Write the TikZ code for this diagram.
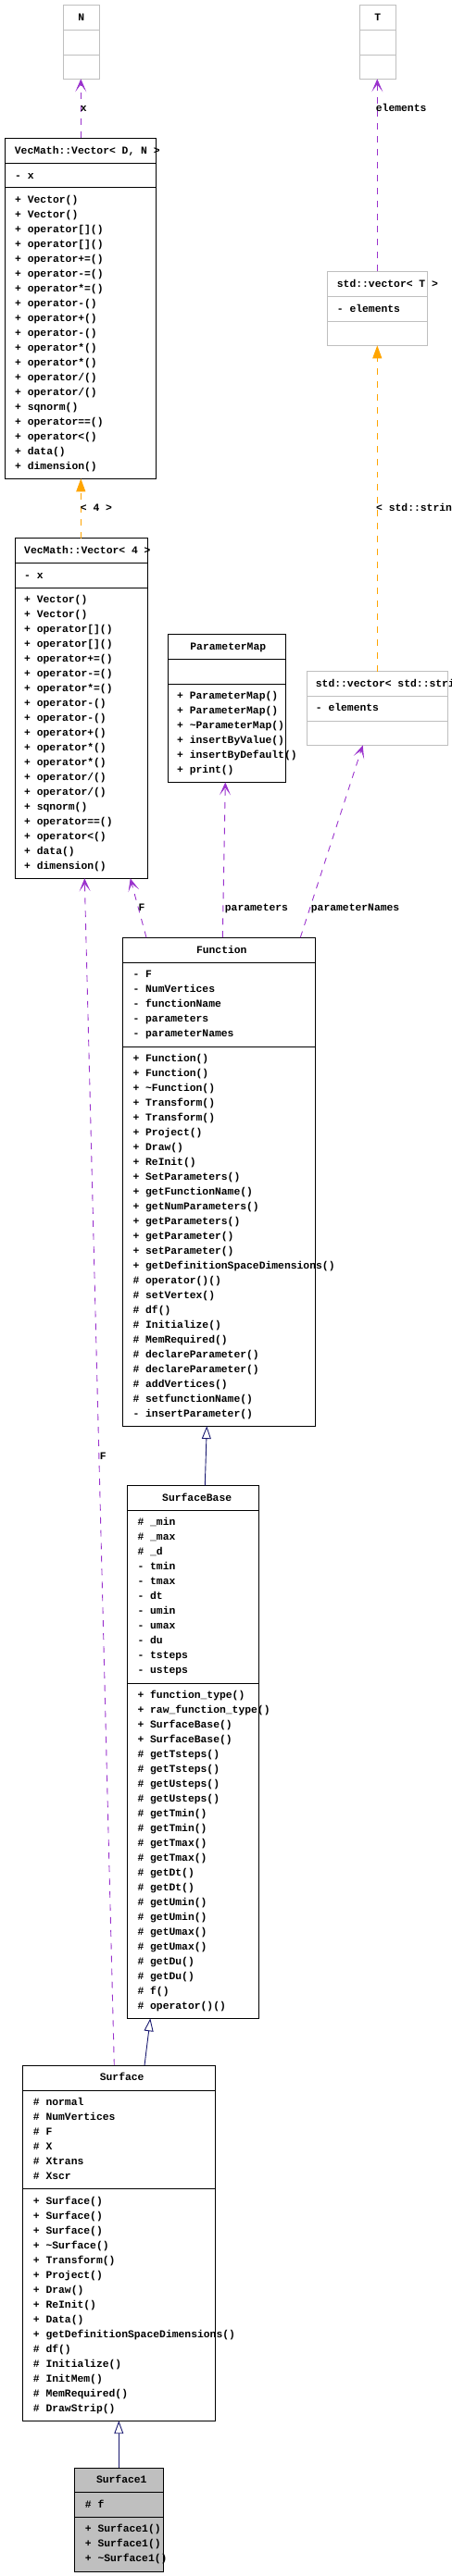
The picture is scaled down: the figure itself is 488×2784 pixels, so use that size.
\documentclass[tikz,border=0pt]{standalone}
\usepackage{fontspec}
\newfontfamily\clsmono{Liberation Mono}
\usetikzlibrary{arrows.meta,fit}
\definecolor{useviolet}{HTML}{9A32CD}
\definecolor{tplorange}{HTML}{FFA500}
\definecolor{inhnavy}{HTML}{191970}
\definecolor{boxgray}{HTML}{BFBFBF}
\newcommand\clsfont{\clsmono\bfseries\fontsize{11.4}{12}\selectfont}
\tikzset{
  box/.style={draw=black, line width=0.9pt, inner sep=0pt, outer sep=0pt},
  gbox/.style={box, draw=boxgray},
  divline/.style={draw=black, line width=0.9pt},
  gdivline/.style={draw=boxgray, line width=0.9pt},
  txt/.style={anchor=west, inner sep=0pt, text height=9.5pt, text depth=2pt, font=\clsfont},
  ttl/.style={txt, anchor=center},
  usearrow/.style={draw=useviolet, line width=0.9pt, dash pattern=on 7pt off 7pt,
    -{Stealth[length=14pt,width=12pt,inset=8pt,fill=useviolet]}},
  tplarrow/.style={draw=tplorange, line width=0.9pt, dash pattern=on 7pt off 7pt,
    -{Triangle[length=14pt,width=10pt,fill=tplorange]}},
  inharrow/.style={draw=inhnavy, line width=0.9pt,
    -{Triangle[open,length=14pt,width=10pt,fill=white]}},
}
\newcommand\rows[4]{%
  \foreach \t [count=\i from 0] in {#4} {\node[txt] (#1\i) at (#2,{#3+16*\i}) {\t};}}
\begin{document}
\begin{tikzpicture}[x=1bp,y=-1bp]
\useasboundingbox (0,0) rectangle (488,2784);
\clip (0,0) rectangle (488,2784);

% ---- N
\node[gbox, fit={(68.3,5.3) (107.3,85.3)}] (nN) {};
\draw[gdivline] (nN.west |- 0,32.3) -- (nN.east |- 0,32.3);
\draw[gdivline] (nN.west |- 0,59.3) -- (nN.east |- 0,59.3);
\node[ttl] (nNt) at (87.8,19) {N};

% ---- T
\node[gbox, fit={(388.3,5.3) (427.3,85.3)}] (nT) {};
\draw[gdivline] (nT.west |- 0,32.3) -- (nT.east |- 0,32.3);
\draw[gdivline] (nT.west |- 0,59.3) -- (nT.east |- 0,59.3);
\node[ttl] (nTt) at (407.8,19) {T};

% ---- VecMath::Vector< D, N >
\node[box, fit={(5.3,149) (168.7,517.3)}] (vecDN) {};
\draw[divline] (vecDN.west |- 0,176.7) -- (vecDN.east |- 0,176.7);
\draw[divline] (vecDN.west |- 0,202.7) -- (vecDN.east |- 0,202.7);
\node[txt] (vecDNt) at (15.7,163) {VecMath::Vector< D, N >};
\node[txt] (vecDNa) at (16,190) {- x};
\rows{vecDNm}{16}{216}{{+ Vector()},{+ Vector()},{+ operator[]()},{+ operator[]()},{+ operator+=()},{+ operator-=()},{+ operator*=()},{+ operator-()},{+ operator+()},{+ operator-()},{+ operator*()},{+ operator*()},{+ operator/()},{+ operator/()},{+ sqnorm()},{+ operator==()},{+ operator<()},{+ data()},{+ dimension()}}

% ---- std::vector< T >
\node[gbox, fit={(353.3,293.3) (461.3,373.3)}] (vecT) {};
\draw[gdivline] (vecT.west |- 0,320.7) -- (vecT.east |- 0,320.7);
\draw[gdivline] (vecT.west |- 0,347.3) -- (vecT.east |- 0,347.3);
\node[txt] (vecTt) at (363.7,306.7) {std::vector< T >};
\node[txt] (vecTa) at (363.7,333.3) {- elements};

% ---- VecMath::Vector< 4 >
\node[box, fit={(16.3,581.7) (159.7,949.3)}] (vec4) {};
\draw[divline] (vec4.west |- 0,608.3) -- (vec4.east |- 0,608.3);
\draw[divline] (vec4.west |- 0,635.3) -- (vec4.east |- 0,635.3);
\node[txt] (vec4t) at (26,595) {VecMath::Vector< 4 >};
\node[txt] (vec4a) at (26,621.7) {- x};
\rows{vec4m}{26}{647.7}{{+ Vector()},{+ Vector()},{+ operator[]()},{+ operator[]()},{+ operator+=()},{+ operator-=()},{+ operator*=()},{+ operator-()},{+ operator-()},{+ operator+()},{+ operator*()},{+ operator*()},{+ operator/()},{+ operator/()},{+ sqnorm()},{+ operator==()},{+ operator<()},{+ data()},{+ dimension()}}

% ---- ParameterMap
\node[box, fit={(181.3,685.4) (308.3,845.4)}] (pmap) {};
\draw[divline] (pmap.west |- 0,712.5) -- (pmap.east |- 0,712.5);
\draw[divline] (pmap.west |- 0,739.3) -- (pmap.east |- 0,739.3);
\node[ttl] (pmapt) at (246.3,698.9) {ParameterMap};
\rows{pmapm}{191}{751.8}{{+ ParameterMap()},{+ ParameterMap()},{+ \textasciitilde ParameterMap()},{+ insertByValue()},{+ insertByDefault()},{+ print()}}

% ---- std::vector< std::string >
\node[gbox, fit={(331.3,725.7) (483.3,805.4)}] (vecS) {};
\draw[gdivline] (vecS.west |- 0,752.5) -- (vecS.east |- 0,752.5);
\draw[gdivline] (vecS.west |- 0,779.3) -- (vecS.east |- 0,779.3);
\node[txt] (vecSt) at (340.7,738.9) {std::vector< std::string >};
\node[txt] (vecSa) at (340.7,765) {- elements};

% ---- Function
\node[box, fit={(132.3,1013.2) (340.3,1541.1)}] (func) {};
\draw[divline] (func.west |- 0,1040.4) -- (func.east |- 0,1040.4);
\draw[divline] (func.west |- 0,1131.4) -- (func.east |- 0,1131.4);
\node[ttl] (funct) at (239.3,1026.8) {Function};
\rows{funca}{143.3}{1052.9}{{- F},{- NumVertices},{- functionName},{- parameters},{- parameterNames}}
\rows{funcm}{143.3}{1143.6}{{+ Function()},{+ Function()},{+ \textasciitilde Function()},{+ Transform()},{+ Transform()},{+ Project()},{+ Draw()},{+ ReInit()},{+ SetParameters()},{+ getFunctionName()},{+ getNumParameters()},{+ getParameters()},{+ getParameter()},{+ setParameter()},{+ getDefinitionSpaceDimensions()},{\# operator()()},{\# setVertex()},{\# df()},{\# Initialize()},{\# MemRequired()},{\# declareParameter()},{\# declareParameter()},{\# addVertices()},{\# setfunctionName()},{- insertParameter()}}

% ---- SurfaceBase
\node[box, fit={(137.3,1605.4) (279.3,2181.3)}] (sbase) {};
\draw[divline] (sbase.west |- 0,1632.5) -- (sbase.east |- 0,1632.5);
\draw[divline] (sbase.west |- 0,1819.3) -- (sbase.east |- 0,1819.3);
\node[ttl] (sbaset) at (212.7,1618.9) {SurfaceBase};
\rows{sbasea}{148.3}{1645}{{\# \_min},{\# \_max},{\# \_d},{- tmin},{- tmax},{- dt},{- umin},{- umax},{- du},{- tsteps},{- usteps}}
\rows{sbasem}{148.3}{1831.8}{{+ function\_type()},{+ raw\_function\_type()},{+ SurfaceBase()},{+ SurfaceBase()},{\# getTsteps()},{\# getTsteps()},{\# getUsteps()},{\# getUsteps()},{\# getTmin()},{\# getTmin()},{\# getTmax()},{\# getTmax()},{\# getDt()},{\# getDt()},{\# getUmin()},{\# getUmin()},{\# getUmax()},{\# getUmax()},{\# getDu()},{\# getDu()},{\# f()},{\# operator()()}}

% ---- Surface
\node[box, fit={(24.3,2232.2) (232.3,2616.2)}] (surf) {};
\draw[divline] (surf.west |- 0,2259.4) -- (surf.east |- 0,2259.4);
\draw[divline] (surf.west |- 0,2365.5) -- (surf.east |- 0,2365.5);
\node[ttl] (surft) at (131.7,2245) {Surface};
\rows{surfa}{35.7}{2271.8}{{\# normal},{\# NumVertices},{\# F},{\# X},{\# Xtrans},{\# Xscr}}
\rows{surfm}{35.7}{2378.6}{{+ Surface()},{+ Surface()},{+ Surface()},{+ \textasciitilde Surface()},{+ Transform()},{+ Project()},{+ Draw()},{+ ReInit()},{+ Data()},{+ getDefinitionSpaceDimensions()},{\# df()},{\# Initialize()},{\# InitMem()},{\# MemRequired()},{\# DrawStrip()}}

% ---- Surface1
\node[box, fill=boxgray, fit={(80.3,2667.3) (176.3,2779.3)}] (surf1) {};
\draw[divline] (surf1.west |- 0,2693.7) -- (surf1.east |- 0,2693.7);
\draw[divline] (surf1.west |- 0,2720.3) -- (surf1.east |- 0,2720.3);
\node[ttl] (surf1t) at (131.3,2680) {Surface1};
\node[txt] (surf1a) at (91.7,2706.7) {\# f};
\rows{surf1m}{91.7}{2733}{{+ Surface1()},{+ Surface1()},{+ \textasciitilde Surface1()}}

% ---- connectors
\draw[usearrow] (vecDN.north -| 87.3,0) -- (nN.south -| 87.3,0);
\draw[usearrow] (vecT.north -| 407.3,0) -- (nT.south -| 407.3,0);
\draw[tplarrow] (vec4.north -| 87.3,0) -- (vecDN.south -| 87.3,0);
\draw[tplarrow] (vecS.north -| 407.3,0) -- (vecT.south -| 407.3,0);
\draw[usearrow] (func.north -| 240.3,0) -- (pmap.south -| 243.3,0);
\draw[usearrow] (func.north -| 324.3,0) -- (vecS.south -| 391.7,0);
\draw[usearrow] (func.north -| 158,0) -- (vec4.south -| 140.7,0);
\draw[usearrow] (surf.north -| 123.3,0) -- (vec4.south -| 91.3,0);
\draw[inharrow] (sbase.north -| 221.3,0) -- (func.south -| 223.3,0);
\draw[inharrow] (surf.north -| 156,0) -- (sbase.south -| 162.3,0);
\draw[inharrow] (surf1.north -| 128.3,0) -- (surf.south -| 128.3,0);

% ---- connector labels
\node[txt] (lx) at (86.7,117) {x};
\node[txt] (lel) at (405.7,117) {elements};
\node[txt] (l4) at (86.7,549) {< 4 >};
\node[txt] (lstr) at (406,548.9) {< std::string >};
\node[txt] (lpar) at (242.7,981) {parameters};
\node[txt] (lpn) at (335.7,981) {parameterNames};
\node[txt] (lF1) at (149.5,981) {F};
\node[txt] (lF2) at (107.7,1573.5) {F};
\end{tikzpicture}
\end{document}
